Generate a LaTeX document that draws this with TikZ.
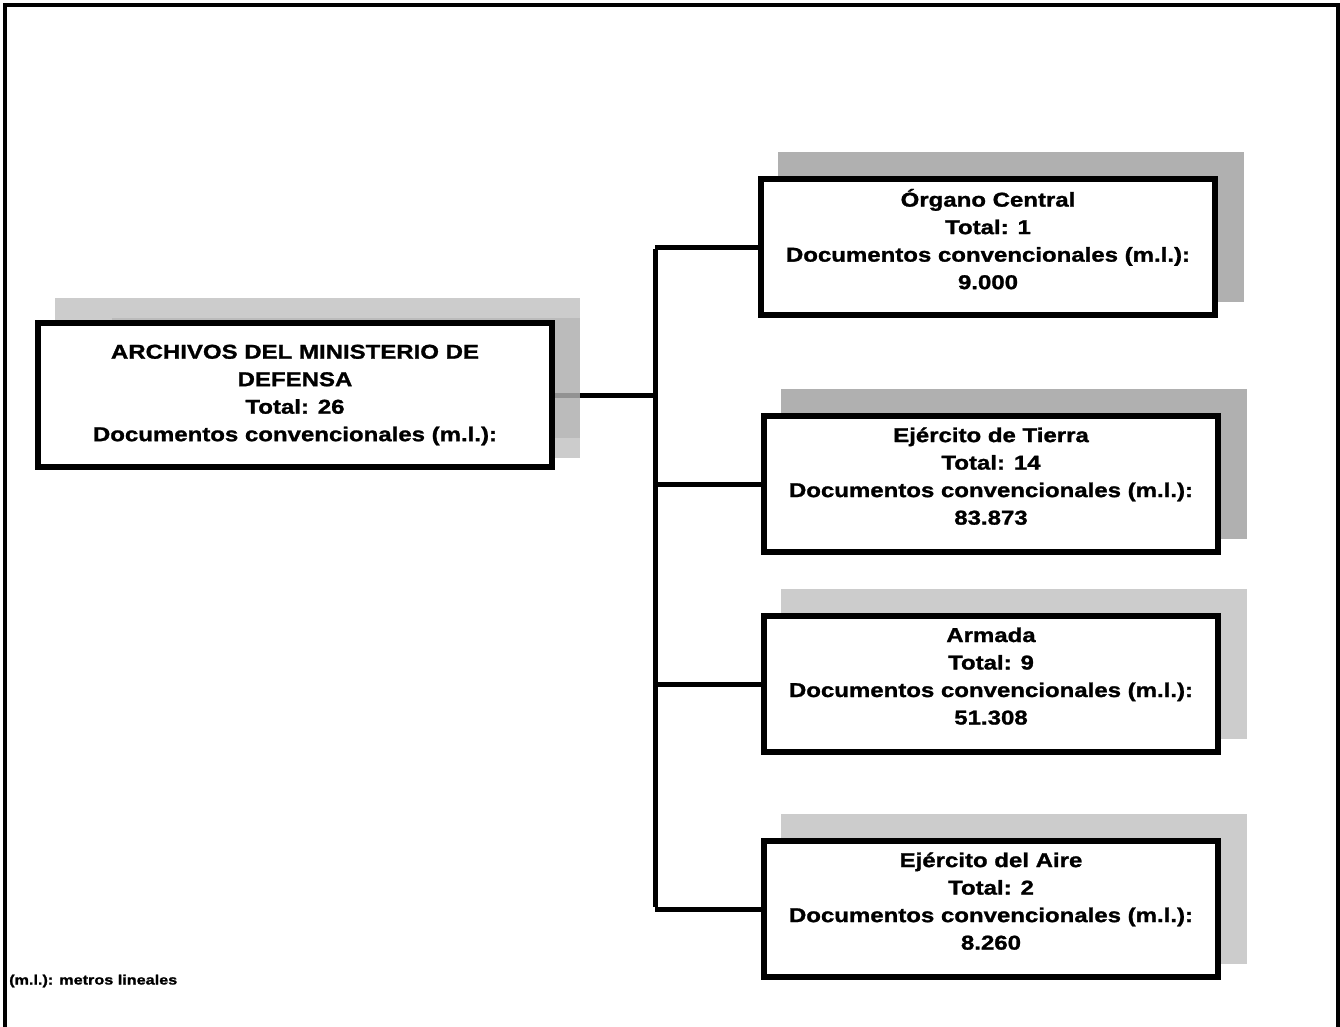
\documentclass[tikz,border=0pt]{standalone}
\usepackage{fontspec}
\setmainfont{Liberation Sans}[FakeStretch=1.2, BoldFeatures={FakeBold=1.3}]
\usepackage{tikz}
\usetikzlibrary{calc}
\pgfdeclarelayer{background}
\pgfsetlayers{background,main}
\definecolor{sombraosc}{gray}{0.69}
\definecolor{sombracla}{gray}{0.80}
\tikzset{
  caja/.style = {rectangle, draw=black, fill=white, line width=6pt,
    align=center, inner sep=0pt,
    font=\bfseries\fontsize{20}{27.5}\selectfont},
  caja_mdef/.style = {caja, minimum width=514pt, minimum height=144pt},% caja del ministerio
  caja_rama/.style = {caja, minimum width=454pt, minimum height=136pt,
    text depth=16pt},% caja de cada rama
  conector/.style = {draw=black, line width=5pt},
  marco/.style = {draw=black, line width=4pt},
  nota/.style = {anchor=west, inner sep=0pt,
    font=\bfseries\fontsize{13.5}{15}\selectfont}
}

\begin{document}
\begin{tikzpicture}[x=1pt, y=-1pt]
  \useasboundingbox (0,0) rectangle (1340,1026);
  \draw[marco] (5,1030) -- (5,5) -- (1337.5,5) -- (1337.5,1030);

  \node [caja_mdef] (mdef) at (295,395)
    {ARCHIVOS DEL MINISTERIO DE\\DEFENSA\\Total: 26\\Documentos convencionales (m.l.):};

  \node [caja_rama] (organo) at (988,247)
    {Órgano Central\\Total: 1\\Documentos convencionales (m.l.):\\9.000};
  \node [caja_rama] (tierra) at (991,484)
    {Ejército de Tierra\\Total: 14\\Documentos convencionales (m.l.):\\83.873};
  \node [caja_rama] (armada) at (991,684)
    {Armada\\Total: 9\\Documentos convencionales (m.l.):\\51.308};
  \node [caja_rama] (aire) at (991,909)
    {Ejército del Aire\\Total: 2\\Documentos convencionales (m.l.):\\8.260};

  \coordinate (troncoA) at (655,249);
  \coordinate (troncoB) at (655,907);

  \node [nota] (nota) at (9,981) {(m.l.): metros lineales};

  \begin{pgfonlayer}{background}
    % conectores
    \draw[conector] (mdef.east) -- (mdef.east -| troncoA);
    \draw[conector] (troncoA) -- (troncoB);
    \foreach \rama in {organo, tierra, armada, aire}
      \draw[conector] (\rama.west) -- (\rama.west -| troncoA);
    % sombras
    \fill[gray!66.7, fill opacity=0.6] ([shift={(20,-22)}]mdef.north west) rectangle ([shift={(25,-12)}]mdef.south east);
    \fill[gray!61.6, fill opacity=0.6] ([shift={(77,-2)}]mdef.north west) rectangle ([shift={(25,-32)}]mdef.south east);
    \fill[sombraosc] ([shift={(20,-24)}]organo.north west) rectangle ([shift={(26,-16)}]organo.south east);
    \fill[sombraosc] ([shift={(20,-24)}]tierra.north west) rectangle ([shift={(26,-16)}]tierra.south east);
    \fill[sombracla] ([shift={(20,-24)}]armada.north west) rectangle ([shift={(26,-16)}]armada.south east);
    \fill[sombracla] ([shift={(20,-24)}]aire.north west) rectangle ([shift={(26,-16)}]aire.south east);
  \end{pgfonlayer}
\end{tikzpicture}
\end{document}
